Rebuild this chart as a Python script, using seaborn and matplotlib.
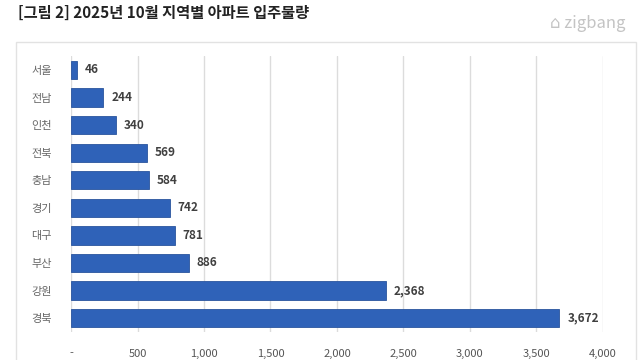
import matplotlib
matplotlib.use("Agg")
import matplotlib.pyplot as plt
import matplotlib.patches as mpatches
from matplotlib.ticker import FuncFormatter
import pandas as pd
import seaborn as sns

regions = ["서울", "전남", "인천", "전북", "충남", "경기", "대구", "부산", "강원", "경북"]
units = [46, 244, 340, 569, 584, 742, 781, 886, 2368, 3672]
xticks = [0, 500, 1000, 1500, 2000, 2500, 3000, 3500, 4000]

sns.set_theme(style="white")
plt.rcParams["font.family"] = ["Noto Sans CJK KR", "DejaVu Sans"]

df = pd.DataFrame({"region": regions, "units": units})

fig = plt.figure(figsize=(6.4, 3.6), dpi=100)
ax = fig.add_axes([0.111, 0.078, 0.831, 0.766])

# outer frame of the figure box
fig.patches.append(mpatches.Rectangle((16 / 640, -0.05), 620 / 640, 1 - 42 / 360 + 0.05,
                                      transform=fig.transFigure, fill=False,
                                      edgecolor="#e2e2e2", linewidth=1.0))

sns.barplot(data=df, x="units", y="region", color="#2F62B8", saturation=1,
            width=0.66, edgecolor="#2a559e", linewidth=0.6, ax=ax)

for i, v in enumerate(units):
    ax.text(v + 60, i, f"{v:,}", va="center", ha="left", fontsize=8.5,
            fontweight="bold", color="#404040")

ax.set_xlim(0, 4000)
ax.set_xticks(xticks)
ax.xaxis.set_major_formatter(FuncFormatter(lambda x, p: "-" if x == 0 else f"{int(x):,}"))
ax.grid(axis="x", color="#dcdcdc", linewidth=1.0)
ax.set_axisbelow(True)
for s in ax.spines.values():
    s.set_visible(False)
ax.tick_params(axis="x", length=0, pad=12, labelsize=8, labelcolor="#555555")
ax.tick_params(axis="y", length=0, pad=14, labelsize=8, labelcolor="#666666")
ax.set_xlabel("")
ax.set_ylabel("")

fig.text(18 / 640, 1 - 13 / 360, "[그림 2] 2025년 10월 지역별 아파트 입주물량",
         fontsize=11, fontweight="bold", color="#222222", va="center", ha="left")
fig.text(626 / 640, 1 - 24 / 360, "⌂ zigbang", fontsize=12, color="#c4c4c4",
         va="center", ha="right")

fig.savefig("out.png", dpi=100)
